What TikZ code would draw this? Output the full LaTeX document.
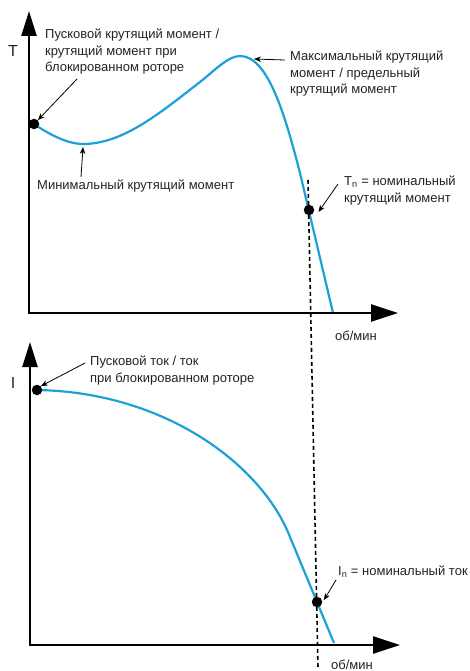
\documentclass[tikz,border=0pt]{standalone}
\usepackage{fontspec}
\setmainfont{Liberation Sans}
\usetikzlibrary{arrows.meta}
\definecolor{curveblue}{RGB}{27,161,215}
\definecolor{txt}{RGB}{35,35,35}
\begin{document}
\begin{tikzpicture}[x=1pt,y=-1pt,
  axis/.style={line width=2.4pt,draw=black},
  yarrow/.style={-{Triangle[length=25pt,width=15pt]}},
  xarrow/.style={-{Triangle[length=27pt,width=17pt]}},
  curve/.style={line width=2.2pt,draw=curveblue,line join=round},
  dot/.style={circle,fill=black,inner sep=0pt,minimum size=10.5pt},
  note/.style={-{Stealth[length=7pt,width=5.5pt]},line width=0.8pt},
  lbl/.style={text=txt,font=\fontsize{13}{16.5}\selectfont,align=left,inner sep=0pt,anchor=north west},
  ax/.style={text=txt,font=\fontsize{16}{18}\selectfont,inner sep=0pt},
  rpm/.style={text=txt,font=\fontsize{13}{15}\selectfont,inner sep=0pt},
  dashline/.style={line width=1.6pt,dash pattern=on 4pt off 3pt}
]
\useasboundingbox (0,0) rectangle (470,671);
% ---------- top plot ----------
\coordinate (o1) at (29,313);
\coordinate (yt1) at (29,11);
\coordinate (xt1) at (398,313);
\draw[curve] (34,124) .. controls (50,135) and (68,144) .. (83,144)
  .. controls (123,144) and (160,113) .. (200,82)
  .. controls (214,71) and (228,56) .. (240,56)
  .. controls (268,56) and (285,115) .. (300,173)
  -- (333,313);
\draw[axis,xarrow] (o1) -- (xt1);
\draw[axis,yarrow] ([yshift=-1.2pt]o1) -- (yt1);
\node[ax] (T) at (13,51) {T};
\node[rpm] (rpm1) at (356,336) {об/мин};
\node[dot] (d1) at (34,124) {};
\node[dot] (d2) at (309,210) {};
\coordinate (min1) at (83,147);
\coordinate (max1) at (254,59);
\node[lbl] (l1) at (45,29) {Пусковой крутящий момент /\\крутящий момент при\\блокированном роторе};
\node[lbl] (l2) at (290,51) {Максимальный крутящий\\момент / предельный\\крутящий момент};
\node[lbl] (l3) at (37,180) {Минимальный крутящий момент};
\node[lbl] (l4) at (344,176) {T\textsubscript{n} = номинальный\\крутящий момент};
\coordinate (s1) at (77,79);
\coordinate (s2) at (285,60);
\coordinate (s3) at (81,177);
\coordinate (s4) at (338,184);
\draw[note] (s1) -- (d1.north east);
\draw[note] (s2) -- (max1);
\draw[note] (s3) -- (min1);
\draw[note] (s4) -- ([xshift=4pt,yshift=-2pt]d2.east);
% ---------- bottom plot ----------
\coordinate (o2) at (30,645);
\coordinate (yt2) at (30,342);
\coordinate (xt2) at (400,645);
\draw[curve] (37,390) .. controls (165,392) and (262,465) .. (290,537) -- (334,643);
\draw[axis,xarrow] (o2) -- (xt2);
\draw[axis,yarrow] ([yshift=-1.2pt]o2) -- (yt2);
\node[ax] (I) at (13,383) {I};
\node[rpm] (rpm2) at (352,665) {об/мин};
\node[dot] (d3) at (37,390) {};
\node[dot] (d4) at (317,602) {};
\node[lbl] (l5) at (90,356) {Пусковой ток / ток\\при блокированном роторе};
\node[lbl] (l6) at (338,566) {I\textsubscript{n} = номинальный ток};
\coordinate (s5) at (85,363);
\coordinate (s6) at (336,580);
\draw[note] (s5) -- (d3.north east);
\draw[note] (s6) -- ([xshift=3pt,yshift=-2pt]d4.north east);
% ---------- dashed line ----------
\coordinate (dtop) at (308,180);
\coordinate (dbot) at (318,668);
\draw[dashline] (dtop) -- (dbot);
\end{tikzpicture}
\end{document}
